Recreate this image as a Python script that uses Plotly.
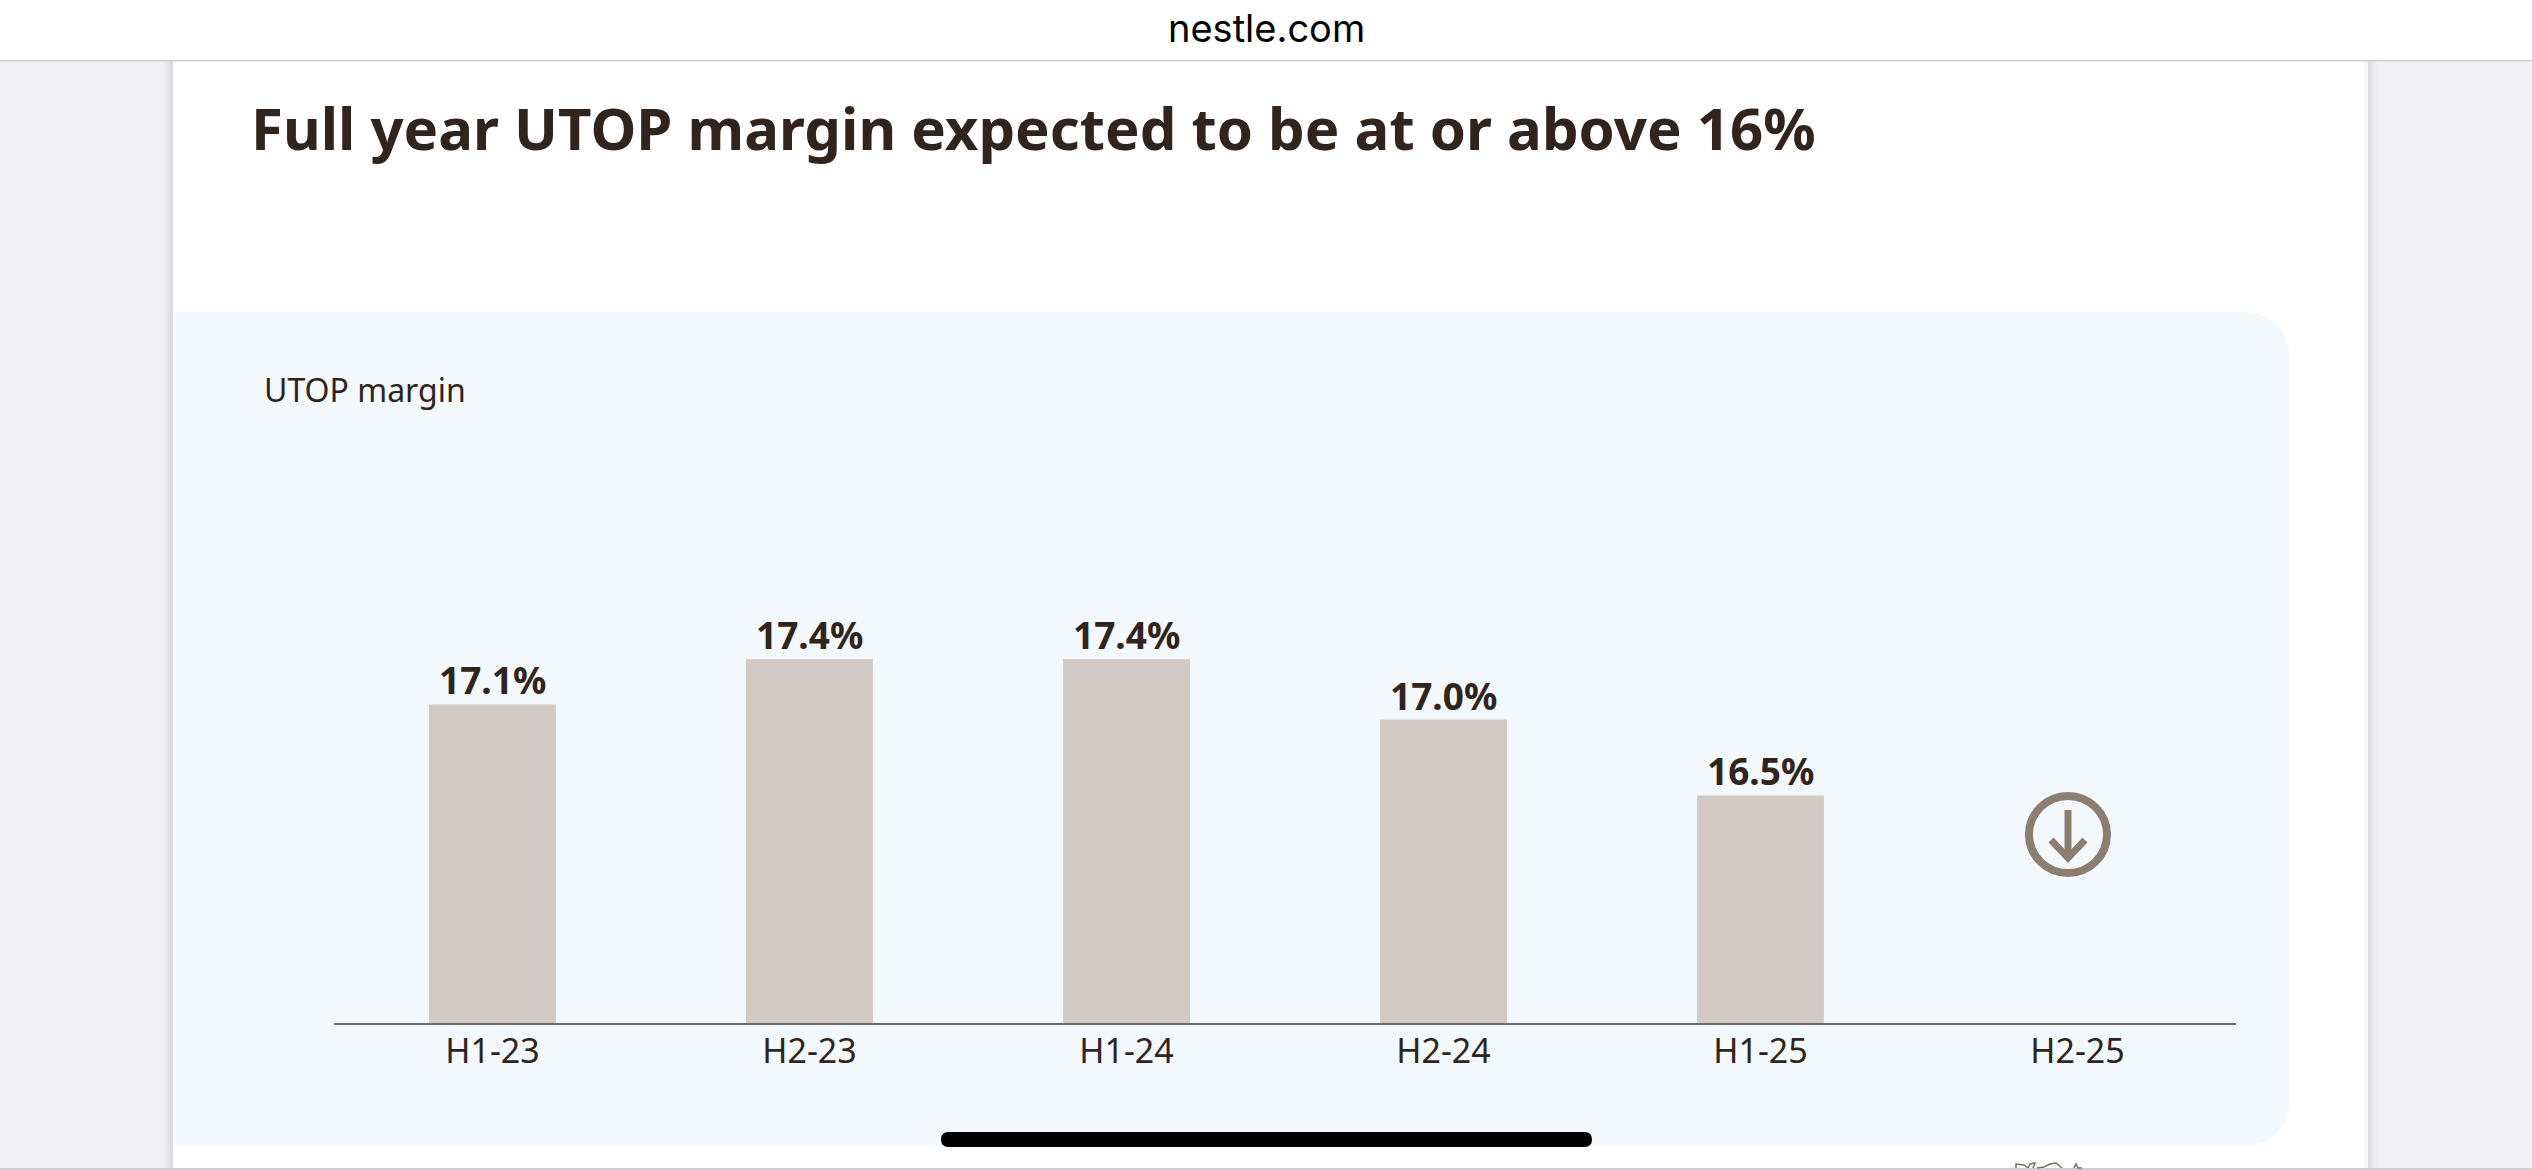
import plotly.graph_objects as go

categories = ["H1-23", "H2-23", "H1-24", "H2-24", "H1-25", "H2-25"]
margin_values = [17.1, 17.4, 17.4, 17.0, 16.5, None]
title_text = "Full year UTOP margin expected to be at or above 16%"
panel_label = "UTOP margin"
site_text = "nestle.com"

W, H = 2532, 1170
INK = "#30241c"
BAR = "#d1c9c3"
PANEL = "#f3f8fc"
SIDE = "#f2f1f6"
ICON = "#8b7e71"
SKETCH = "#7d6d60"
FONT = "Noto Sans"


def px(x):
    return x / W


def py(y):
    return 1 - y / H


def rect(x0, y0, x1, y1, color):
    return dict(type="rect", xref="paper", yref="paper", x0=px(x0), x1=px(x1),
                y0=py(y1), y1=py(y0), fillcolor=color, line_width=0, layer="below")


def path(d_points, color=None, line=None, width=0, layer="below", close=False):
    d = "M " + " L ".join(f"{px(x):.6f},{py(y):.6f}" for x, y in d_points)
    if close:
        d += " Z"
    return dict(type="path", xref="paper", yref="paper", path=d, fillcolor=color,
                line=dict(color=line, width=width), layer=layer)


def rounded_panel(x0, y0, x1, y1, r):
    a, b = px(x0), px(x1)
    top, bot = py(y0), py(y1)
    rx, ry = r / W, r / H
    d = (f"M {a},{top} L {b-rx},{top} Q {b},{top} {b},{top-ry} "
         f"L {b},{bot+ry} Q {b},{bot} {b-rx},{bot} L {a},{bot} Z")
    return dict(type="path", xref="paper", yref="paper", path=d, fillcolor=PANEL,
                line_width=0, layer="below")


def pill(x0, y0, x1, y1):
    r = (y1 - y0) / 2
    a, b = px(x0), px(x1)
    top, bot = py(y0), py(y1)
    rx = r / W
    d = (f"M {a+rx},{top} L {b-rx},{top} Q {b},{top} {b},{(top+bot)/2} Q {b},{bot} {b-rx},{bot} "
         f"L {a+rx},{bot} Q {a},{bot} {a},{(top+bot)/2} Q {a},{top} {a+rx},{top} Z")
    return dict(type="path", xref="paper", yref="paper", path=d, fillcolor="#000000",
                line_width=0, layer="above")


shade_steps = ["#f1f0f5", "#efeef3", "#ecebf0", "#e8e8ec", "#e3e3e7", "#dcdce0"]
shapes = [
    rect(0, 60, 173, 1168, SIDE),
    rect(2368, 60, W, 1168, SIDE),
]
for i, c in enumerate(shade_steps):
    shapes.append(rect(160 + 2 * i, 60, 173, 1168, c))
    shapes.append(rect(2368, 60, 2380 - 2 * i, 1168, c))
shapes += [
    rect(2364, 60, 2368, 1168, "#f8f8f8"),
    rect(0, 60, W, 61.5, "#cfcfcf"),
    rect(0, 1168, W, 1170, "#cfcfcf"),
    rounded_panel(175, 312, 2290, 1146, 52),
    pill(941, 1132, 1592, 1147),
    # down-arrow icon
    dict(type="circle", xref="paper", yref="paper", x0=px(2029), x1=px(2107),
         y0=py(873), y1=py(796), line=dict(color=ICON, width=8), fillcolor="rgba(0,0,0,0)"),
    path([(2068, 810), (2068, 857)], line=ICON, width=7),
    path([(2051, 840), (2068, 858), (2085, 840)], line=ICON, width=7),
    # clipped sketch at the foot of the page
    path([(2016, 1168), (2016, 1164), (2024, 1165), (2028, 1168)], line=SKETCH, width=1.5),
    path([(2028, 1168), (2030, 1164), (2035, 1163), (2033, 1168)], line=SKETCH, width=1.5),
    path([(2037, 1168), (2044, 1167), (2050, 1164), (2056, 1163), (2062, 1168)], line=SKETCH, width=1.5),
    path([(2074, 1168), (2076, 1164), (2078, 1168), (2082, 1168)], line=SKETCH, width=1.5),
]

fig = go.Figure(go.Bar(
    x=categories, y=margin_values, width=0.4,
    marker=dict(color=BAR, line_width=0),
    hoverinfo="skip",
))

value_labels = [
    dict(text=f"{v:.1f}%", x=c, y=v, xref="x", yref="y", xanchor="center",
         yanchor="bottom", yshift=-3, showarrow=False,
         font=dict(family=FONT, size=37, color=INK, weight=700))
    for c, v in zip(categories, margin_values) if v is not None
]

fig.update_layout(
    width=W, height=H, margin=dict(l=0, r=0, t=0, b=0),
    paper_bgcolor="#ffffff", plot_bgcolor="rgba(0,0,0,0)", showlegend=False,
    shapes=shapes,
    xaxis=dict(domain=[px(334), px(2236)], type="category", categoryorder="array",
               categoryarray=categories, showgrid=False, ticks="", showline=True,
               linecolor="#6f6c69", linewidth=2, ticklabelstandoff=-3,
               tickfont=dict(family=FONT, size=34, color=INK)),
    yaxis=dict(domain=[py(1023), py(560)], range=[15, 15 + 463 / 151.7], visible=False,
               fixedrange=True),
    annotations=value_labels + [
        dict(text=title_text, xref="paper", yref="paper", x=px(249), y=py(127),
             xanchor="left", yanchor="middle", showarrow=False,
             font=dict(family=FONT, size=58.1, color=INK, weight=700)),
        dict(text=panel_label, xref="paper", yref="paper", x=px(262), y=py(390),
             xanchor="left", yanchor="middle", showarrow=False,
             font=dict(family=FONT, size=32, color=INK)),
        dict(text=site_text, xref="paper", yref="paper", x=0.5, y=py(28),
             xanchor="center", yanchor="middle", showarrow=False,
             font=dict(family="Inter", size=38, color="#000000")),
    ],
)

fig.write_html("out.html", config=dict(displayModeBar=False),
               post_script="document.body.style.margin='0';document.body.style.overflow='hidden';")
